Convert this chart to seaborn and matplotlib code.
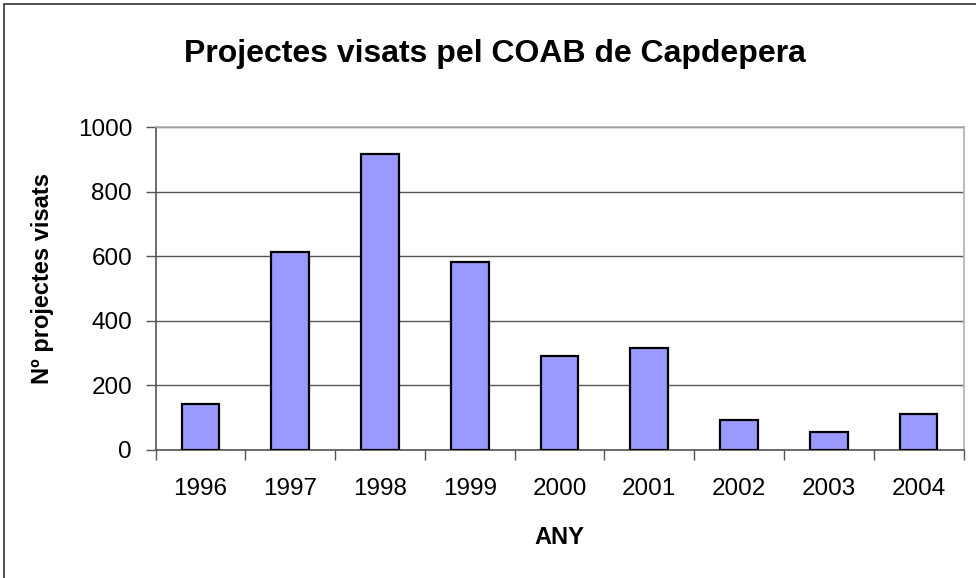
import matplotlib
matplotlib.use("Agg")
import matplotlib.pyplot as plt
from matplotlib.patches import Rectangle
import pandas as pd
import seaborn as sns

# Data
years = ["1996", "1997", "1998", "1999", "2000", "2001", "2002", "2003", "2004"]
projects = [143, 612, 918, 582, 291, 316, 93, 57, 112]

df = pd.DataFrame({"ANY": years, "projectes": projects})

sns.set_style("white")
plt.rcParams['font.family'] = ['Liberation Sans', 'DejaVu Sans']
plt.rcParams['text.color'] = 'black'
plt.rcParams['axes.labelcolor'] = 'black'
plt.rcParams['xtick.labelcolor'] = 'black'
plt.rcParams['ytick.labelcolor'] = 'black'

fig = plt.figure(figsize=(9.76, 5.78), dpi=100)
ax = fig.add_axes([0.1595, 0.2215, 0.8277, 0.5583])

sns.barplot(data=df, x="ANY", y="projectes", color="#9999FF", saturation=1,
            width=0.42, edgecolor="black", linewidth=1.6, ax=ax, zorder=3)

ax.set_xlim(-0.5, 8.5)
ax.set_ylim(0, 1000)
ax.set_yticks(range(0, 1001, 200))
ax.grid(axis="y", color="#555555", linewidth=1, zorder=0)
ax.set_axisbelow(True)

# Excel-style ticks: y ticks outward, x ticks between categories
ax.set_xticks([i - 0.5 for i in range(10)], minor=True)
ax.tick_params(axis="x", which="major", length=0, pad=20, labelsize=17.5)
ax.tick_params(axis="x", which="minor", length=7, width=1, color="#555555", direction="out")
ax.tick_params(axis="y", length=7, width=1, color="#555555", direction="out", pad=10, labelsize=17.5)
ax.xaxis.set_ticks_position("bottom")
ax.yaxis.set_ticks_position("left")

for side in ["left", "bottom"]:
    ax.spines[side].set_color("#555555")
    ax.spines[side].set_linewidth(1.2)
for side in ["top", "right"]:
    ax.spines[side].set_color("#b0b0b0")
    ax.spines[side].set_linewidth(1.2)

ax.set_xlabel("ANY", fontsize=17, fontweight="bold")
ax.set_ylabel("Nº projectes visats", fontsize=17, fontweight="bold")
ax.xaxis.set_label_coords(0.5, -0.235)
ax.yaxis.set_label_coords(-0.126, 0.53)

fig.text(0.507, 0.907, "Projectes visats pel COAB de Capdepera",
         ha="center", va="center", fontsize=23, fontweight="bold")

# outer chart border
fig.patches.append(Rectangle((0.004, -0.1), 1.2, 1.093, transform=fig.transFigure,
                             fill=False, edgecolor="#333333", linewidth=1.2))

fig.savefig("out.png", dpi=100)
